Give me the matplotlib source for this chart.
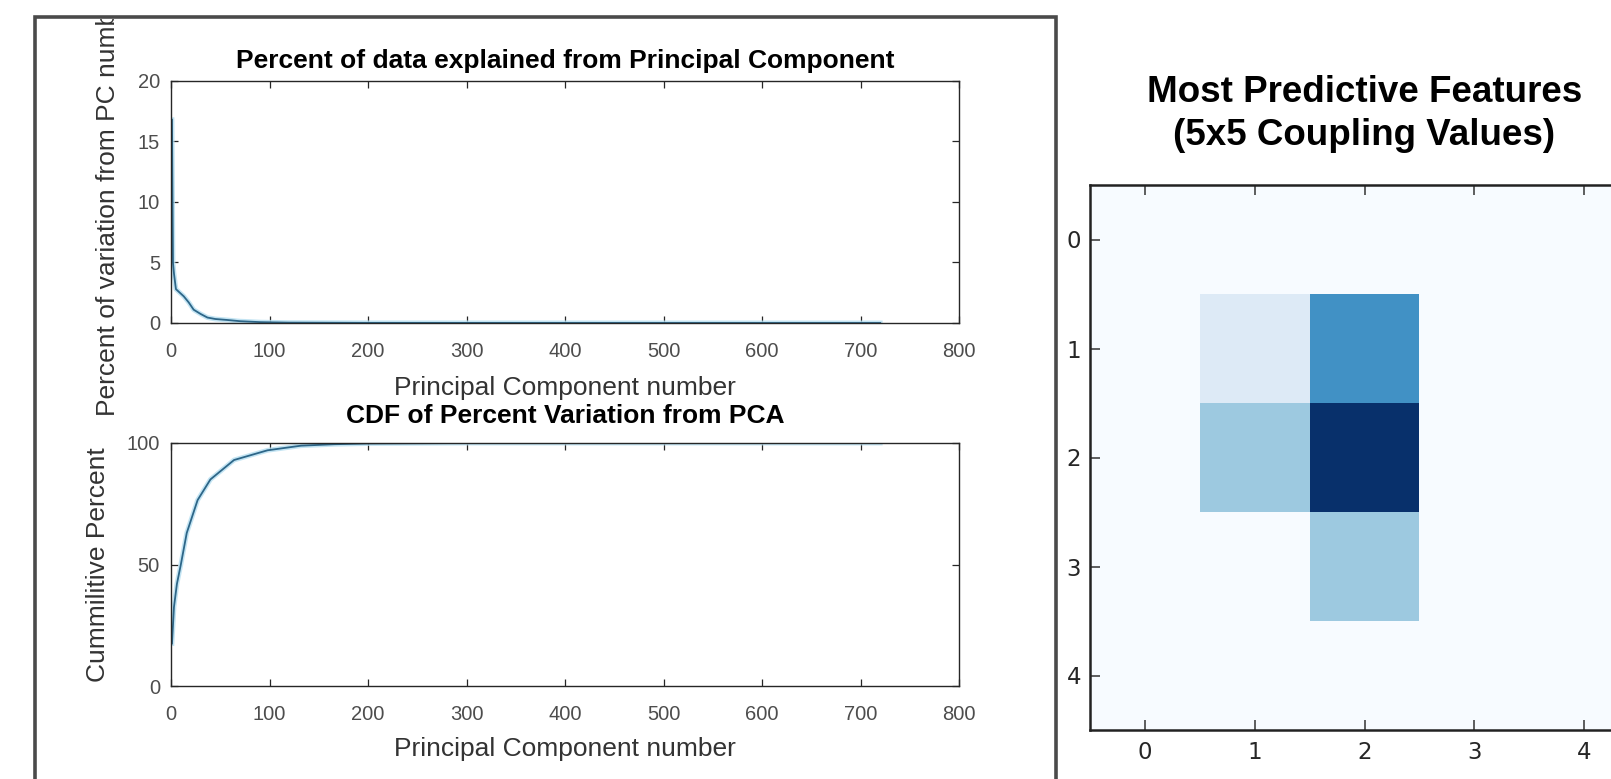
import matplotlib
matplotlib.use('Agg')
import matplotlib.pyplot as plt
from matplotlib.patches import Rectangle
import numpy as np

W = 1611
H = 779

# values
pc_x = [1, 2, 3, 5, 9, 13, 18, 23, 30, 37, 45, 57, 70, 91, 120, 200, 400, 720]
pct_var = [16.8, 5.0, 4.1, 2.8, 2.5, 2.2, 1.7, 1.1, 0.75, 0.45, 0.33, 0.25, 0.15, 0.07, 0.03, 0.01, 0.005, 0.002]

cdf_x = [1, 3, 6, 10, 16, 27, 40, 64, 98, 132, 166, 200, 300, 720]
cdf_y = [17.5, 32.5, 42, 50, 63, 76.5, 85, 93, 97, 98.9, 99.5, 99.8, 100, 100]

pc_ticks = [0, 100, 200, 300, 400, 500, 600, 700, 800]
var_ticks = [0, 5, 10, 15, 20]
cdf_ticks = [0, 50, 100]

# 5x5 coupling values (row = y index, column = x index)
coupling = [[0, 0, 0, 0, 0],
            [0, 1, 5, 0, 0],
            [0, 3, 8, 0, 0],
            [0, 0, 3, 0, 0],
            [0, 0, 0, 0, 0]]
grid_ticks = [0, 1, 2, 3, 4]

mfont = 'Liberation Sans'
line_core = '#2d6688'
line_halo = '#b5def0'

fig = plt.figure(figsize=(W/100, H/100), dpi=100)

def px_axes(left, top, right, bottom):
    return fig.add_axes([left/W, 1-bottom/H, (right-left)/W, (bottom-top)/H])

def matlab_style(ax):
    for s in ax.spines.values():
        s.set_linewidth(1.0)
        s.set_color('#262626')
    ax.tick_params(direction='in', top=True, right=True, length=5, width=0.9,
                   color='#262626', labelsize=14.5, labelcolor='#4d4d4d')
    ax.tick_params(axis='x', pad=14)
    ax.tick_params(axis='y', pad=8)
    for lab in ax.get_xticklabels() + ax.get_yticklabels():
        lab.set_fontfamily(mfont)

# MATLAB figure frame
frame = Rectangle((35/W, -0.05), (1056-35)/W, 1.05-17/H, transform=fig.transFigure,
                  fill=False, edgecolor='#4a4a4a', linewidth=2.6)
fig.patches.append(frame)
clip_rect = Rectangle((37/W, 0), (1054-37)/W, 1-19/H, transform=fig.transFigure)

# upper: percent per component
ax1 = px_axes(171, 81, 959, 323)
ax1.plot(pc_x, pct_var, color=line_halo, linewidth=3.5, alpha=0.8)
ax1.plot(pc_x, pct_var, color=line_core, linewidth=1.3)
ax1.set_xlim(0, 800)
ax1.set_ylim(0, 20)
ax1.set_xticks(pc_ticks)
ax1.set_yticks(var_ticks)
matlab_style(ax1)
ax1.set_xlabel('Principal Component number', fontfamily=mfont, fontsize=19, color='#333333')
ax1.xaxis.set_label_coords(0.5, -0.219)
ylab1 = ax1.set_ylabel('Percent of variation from PC number', fontfamily=mfont, fontsize=19, color='#333333')
ax1.yaxis.set_label_coords(-0.080, 0.5)
ylab1.set_verticalalignment('center')
ylab1.set_clip_path(clip_rect)
ylab1.set_clip_on(True)
ax1.text(0.5, 1.0537, 'Percent of data explained from Principal Component', transform=ax1.transAxes,
         ha='center', va='baseline', fontfamily=mfont, fontsize=19, fontweight='bold', color='black')

# lower: cumulative
ax2 = px_axes(171, 443, 959, 686)
ax2.plot(cdf_x, cdf_y, color=line_halo, linewidth=3.5, alpha=0.8)
ax2.plot(cdf_x, cdf_y, color=line_core, linewidth=1.3)
ax2.set_xlim(0, 800)
ax2.set_ylim(0, 100)
ax2.set_xticks(pc_ticks)
ax2.set_yticks(cdf_ticks)
matlab_style(ax2)
ax2.set_xlabel('Principal Component number', fontfamily=mfont, fontsize=19, color='#333333')
ax2.xaxis.set_label_coords(0.5, -0.21)
ylab2 = ax2.set_ylabel('Cummilitive Percent', fontfamily=mfont, fontsize=19, color='#333333')
ax2.yaxis.set_label_coords(-0.0926, 0.5)
ylab2.set_verticalalignment('center')
ax2.text(0.5, 1.083, 'CDF of Percent Variation from PCA', transform=ax2.transAxes,
         ha='center', va='baseline', fontfamily=mfont, fontsize=19, fontweight='bold', color='black')

# right: heatmap
ax3 = px_axes(1090, 185, 1639, 730)
ax3.imshow(np.array(coupling), cmap='Blues', vmin=0, vmax=8, interpolation='nearest', aspect='auto')
ax3.set_xticks(grid_ticks)
ax3.set_yticks(grid_ticks)
for s in ax3.spines.values():
    s.set_linewidth(1.8)
    s.set_color('#222222')
ax3.tick_params(direction='in', top=True, right=True, length=7.5, width=1.1,
                color='#333333', labelsize=16.5, labelcolor='#262626')
ax3.tick_params(axis='x', pad=8)
ax3.tick_params(axis='y', pad=6.5)
ax3.set_title('Most Predictive Features\n(5x5 Coupling Values)', fontfamily=mfont,
              fontsize=26.5, fontweight='bold', pad=29, linespacing=1.3)

fig.savefig('out.png', dpi=100)
